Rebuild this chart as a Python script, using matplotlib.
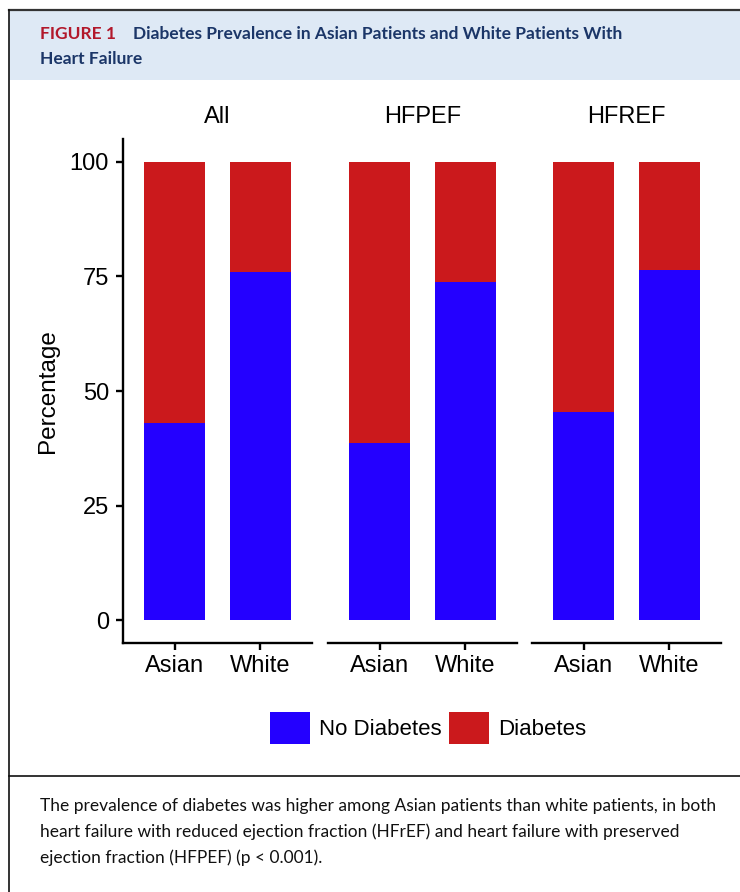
import matplotlib.pyplot as plt
from matplotlib.patches import Patch, Rectangle
from matplotlib.lines import Line2D

# data (percent)
panels = ["All", "HFPEF", "HFREF"]
groups = ["Asian", "White"]
no_diabetes = {
    "All": [43.0, 76.0],
    "HFPEF": [38.6, 73.8],
    "HFREF": [45.4, 76.4],
}
yticks = [0, 25, 50, 75, 100]

blue = "#2400FF"
red = "#CB191C"

W, H = 740, 892
fig = plt.figure(figsize=(W / 100, H / 100), dpi=100)
plt.rcParams['font.family'] = ['Liberation Sans', 'DejaVu Sans']


def fx(x):
    return x / W


def fy(y):
    return 1 - y / H


# frame / header
fig.patches.append(Rectangle((fx(9), fy(80)), 1 - fx(9), fy(10) - fy(80),
                             transform=fig.transFigure, facecolor="#DEE9F5",
                             edgecolor="none", zorder=0))
fig.lines.append(Line2D([fx(9), 1], [fy(10), fy(10)], transform=fig.transFigure,
                        color="#333333", lw=1.6))
fig.lines.append(Line2D([fx(9), fx(9)], [fy(10), 0], transform=fig.transFigure,
                        color="#111111", lw=1.2))
fig.lines.append(Line2D([fx(9), 1], [fy(776), fy(776)], transform=fig.transFigure,
                        color="#111111", lw=1.2))

fig.text(fx(40), fy(34), "FIGURE 1", color="#B2182B", fontsize=12.5,
         fontweight="bold", family="Lato", va="center")
fig.text(fx(133), fy(34), "Diabetes Prevalence in Asian Patients and White Patients With",
         color="#1B3668", fontsize=12.5, fontweight="bold", family="Lato", va="center")
fig.text(fx(40), fy(59), "Heart Failure", color="#1B3668", fontsize=12.5,
         fontweight="bold", family="Lato", va="center")

caption = ["The prevalence of diabetes was higher among Asian patients than white patients, in both",
           "heart failure with reduced ejection fraction (HFrEF) and heart failure with preserved",
           "ejection fraction (HFPEF) (p < 0.001)."]
for i, line in enumerate(caption):
    fig.text(fx(40), fy(806 + 26 * i), line, fontsize=12.5, family="Lato",
             color="#111111", va="center")

# panels
fs = 17
lefts = [123, 328, 532]
for k, (p, left) in enumerate(zip(panels, lefts)):
    ax = fig.add_axes([fx(left), fy(643), fx(189), fy(139) - fy(643)])
    xs = [1, 2]
    nd = no_diabetes[p]
    d = [100 - v for v in nd]
    ax.bar(xs, nd, width=0.7, color=blue, edgecolor="none")
    ax.bar(xs, d, bottom=nd, width=0.7, color=red, edgecolor="none")
    ax.set_xlim(0.4, 2.6)
    ax.set_ylim(-5, 105)
    ax.set_xticks(xs)
    ax.set_xticklabels(groups)
    for s in ["top", "right"]:
        ax.spines[s].set_visible(False)
    ax.spines["bottom"].set_linewidth(1.7)
    ax.tick_params(axis="x", length=5, width=1.7, labelsize=fs, pad=4)
    if k == 0:
        ax.spines["left"].set_linewidth(1.7)
        ax.set_yticks(yticks)
        ax.tick_params(axis="y", length=5, width=1.7, labelsize=fs, pad=5)
        ax.set_ylabel("Percentage", fontsize=17.5, labelpad=8)
    else:
        ax.spines["left"].set_visible(False)
        ax.set_yticks([])
    fig.text(fx(left + 94.5), fy(117), p, fontsize=fs, ha="center", va="center")

handles = [Patch(facecolor=blue, label="No Diabetes"), Patch(facecolor=red, label="Diabetes")]
fig.legend(handles=handles, loc="center", bbox_to_anchor=(fx(428), fy(728)), ncol=2,
           frameon=False, fontsize=16, handlelength=1.8, handleheight=1.8,
           handletextpad=0.4, columnspacing=0.35, borderpad=0, borderaxespad=0)

fig.savefig("out.png", dpi=100)
